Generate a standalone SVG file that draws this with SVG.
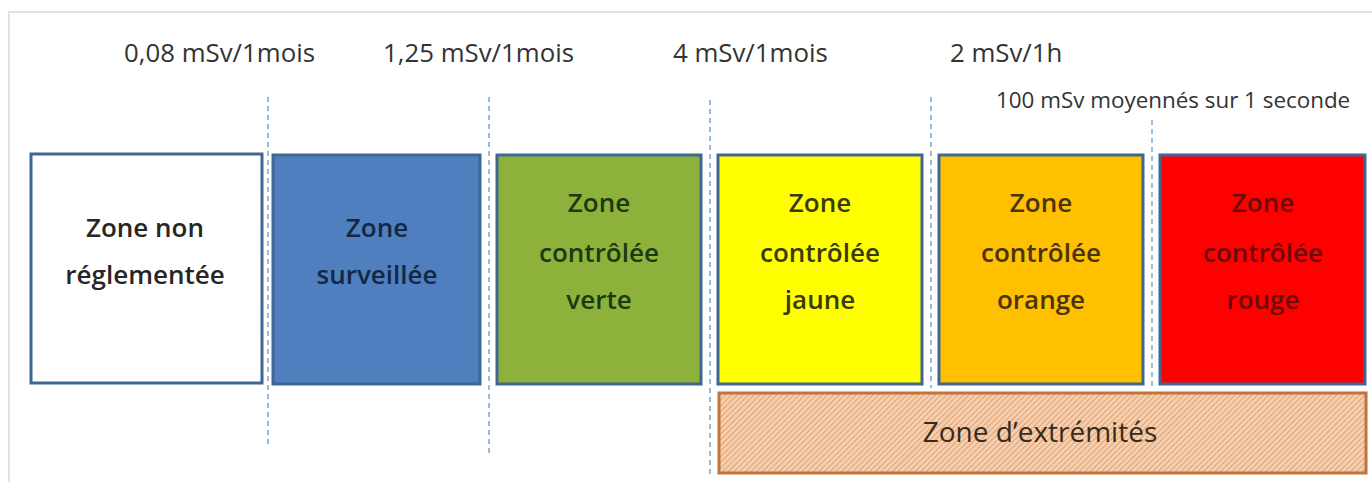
<svg xmlns="http://www.w3.org/2000/svg" width="1372" height="482" viewBox="0 0 1372 482">
<style>
.lbl{font-family:"Open Sans","Liberation Sans",sans-serif;font-size:25.8px;fill:#333;}
.zt{font-family:"Open Sans","Liberation Sans",sans-serif;font-size:26px;font-weight:600;text-anchor:middle;}
.box{stroke:#3f6791;stroke-width:3;}
.dash{stroke:#7ea6cf;stroke-width:1.5;stroke-dasharray:5,4;fill:none;}
</style>
<defs>
<pattern id="hatch" width="4" height="4" patternUnits="userSpaceOnUse" patternTransform="rotate(45)">
<rect width="4" height="4" fill="#f6cfb0"/>
<line x1="0" y1="0" x2="0" y2="4" stroke="#d9935a" stroke-width="1.5"/>
</pattern>
</defs>
<rect width="1372" height="482" fill="#fff"/>
<path d="M9,482 V12 H1372" fill="none" stroke="#e2e2e2" stroke-width="2"/>
<g id="thresholds">
<text class="lbl" x="124" y="62">0,08 mSv/1mois</text>
<text class="lbl" x="383" y="62">1,25 mSv/1mois</text>
<text class="lbl" x="673" y="62">4 mSv/1mois</text>
<text class="lbl" x="950" y="62">2 mSv/1h</text>
<text class="lbl" x="996" y="108" style="font-size:22.4px">100 mSv moyennés sur 1 seconde</text>
</g>
<g id="connectors">
<line class="dash" x1="268" y1="97" x2="268" y2="445"/>
<line class="dash" x1="489" y1="97" x2="489" y2="455"/>
<line class="dash" x1="710" y1="100" x2="710" y2="476"/>
<line class="dash" x1="931" y1="97" x2="931" y2="388"/>
<line class="dash" x1="1152" y1="120" x2="1152" y2="388"/>
</g>
<g id="zone-non-reglementee">
<rect class="box" x="31" y="154" width="231" height="229" fill="#ffffff"/>
<text class="zt" x="145" y="237" fill="#262626">Zone non</text>
<text class="zt" x="145" y="284" fill="#262626">réglementée</text>
</g>
<g id="zone-surveillee">
<rect class="box" x="273" y="155" width="207" height="229" fill="#4f7fbe"/>
<text class="zt" x="377" y="237" fill="#142845">Zone</text>
<text class="zt" x="377" y="284" fill="#142845">surveillée</text>
</g>
<g id="zone-verte">
<rect class="box" x="497" y="155" width="204" height="229" fill="#8eb13c" stroke="#2d6a3a"/>
<text class="zt" x="599" y="212" fill="#1c3a10">Zone</text>
<text class="zt" x="599" y="262" fill="#1c3a10">contrôlée</text>
<text class="zt" x="599" y="309" fill="#1c3a10">verte</text>
</g>
<g id="zone-jaune">
<rect class="box" x="718" y="155" width="204" height="229" fill="#ffff00"/>
<text class="zt" x="820" y="212" fill="#3a3a10">Zone</text>
<text class="zt" x="820" y="262" fill="#3a3a10">contrôlée</text>
<text class="zt" x="820" y="309" fill="#3a3a10">jaune</text>
</g>
<g id="zone-orange">
<rect class="box" x="939" y="155" width="204" height="229" fill="#ffc000"/>
<text class="zt" x="1041" y="212" fill="#4a3410">Zone</text>
<text class="zt" x="1041" y="262" fill="#4a3410">contrôlée</text>
<text class="zt" x="1041" y="309" fill="#4a3410">orange</text>
</g>
<g id="zone-rouge">
<rect class="box" x="1160" y="155" width="205" height="229" fill="#ff0000"/>
<text class="zt" x="1263" y="212" fill="#6a0a0a">Zone</text>
<text class="zt" x="1263" y="262" fill="#6a0a0a">contrôlée</text>
<text class="zt" x="1263" y="309" fill="#6a0a0a">rouge</text>
</g>
<g id="zone-extremites">
<rect x="719" y="393" width="647" height="80" fill="url(#hatch)" stroke="#c0733a" stroke-width="3"/>
<text class="zt" x="1040" y="442" fill="#3a2a1a" style="font-weight:400;font-size:28px">Zone d’extrémités</text>
</g>
</svg>
